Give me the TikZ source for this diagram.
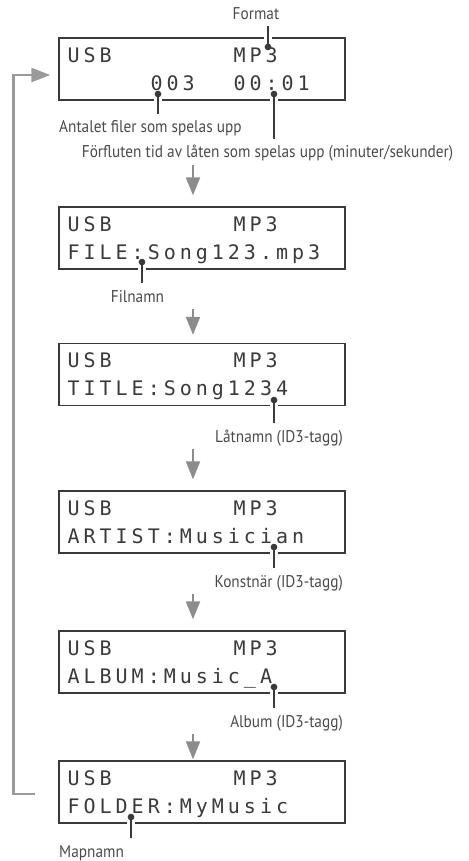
\documentclass[tikz,border=0pt]{standalone}
\usepackage{fontspec}
\setmainfont[FakeStretch=0.9]{PT Sans}
\newfontfamily\lcdfont[LetterSpace=20]{DejaVu Sans Mono}
\usepackage{xcolor}
\usetikzlibrary{arrows.meta,positioning,calc}
\definecolor{lcdgray}{HTML}{3A3A3A}
\definecolor{txtgray}{HTML}{4A4A4A}
\definecolor{flowgray}{HTML}{8C8C8C}
\definecolor{backgray}{HTML}{9A9A9A}

\begin{document}
\begin{tikzpicture}[x=1pt,y=-1pt,
   lcd/.style={draw=lcdgray,line width=1.3pt,minimum width=286pt,minimum height=62pt,inner sep=0pt},
   lcdtxt/.style={anchor=base west,inner sep=0pt,text=lcdgray,font=\lcdfont\fontsize{20}{24}\selectfont},
   lbl/.style={anchor=base,inner xsep=0pt,inner ysep=7pt,text height=12pt,text depth=0pt,
               text=txtgray,font=\fontsize{17}{20}\selectfont},
   callout/.style={draw=lcdgray,line width=2.3pt,{Circle[length=6.5pt]}-,
                   preaction={draw=white,line width=8pt,-,shorten <=8pt}},
   flow/.style={draw=flowgray,line width=2pt,-{Triangle[length=18pt,width=14pt]},shorten >=11pt},
   back/.style={draw=backgray,line width=2.5pt,-{Triangle[length=19pt,width=14pt]}}]
  \useasboundingbox (0,0) rectangle (468,861);

  % displays
  \foreach \n/\y in {1/69,2/238,3/374.5,4/522,5/662,6/792}{
    \node[lcd] (d\n) at (202,\y) {};
    \node[lcdtxt] (u\n) at ($(d\n.north west)+(9,25)$) {USB};
    \node[lcdtxt] (m\n) at ($(d\n.north west)+(175,25)$) {MP3};
  }
  \node[lcdtxt] (num1) at ($(d1.north west)+(92,53)$) {003};
  \node[lcdtxt] (tim1) at ($(d1.north west)+(175,53)$) {00:01};
  \foreach \n/\txt in {2/FILE:Song123.mp3,3/TITLE:Song1234,4/ARTIST:Musician,
                       5/ALBUM:Music\_A,6/FOLDER:MyMusic}
    \node[lcdtxt] (r\n) at ($(d\n.north west)+(9,53)$) {\txt};

  % labels
  \node[lbl] (fmt) at (256,19.3) {Format};
  \node[lbl,anchor=base west] (cnt) at (59,133) {Antalet filer som spelas upp};
  \node[lbl] (tim) at (267.5,158) {Förfluten tid av låten som spelas upp (minuter/sekunder)};
  \node[lbl] (fil) at (137.5,302) {Filnamn};
  \node[lbl,anchor=base east] (lat) at (343,442) {Låtnamn (ID3-tagg)};
  \node[lbl,anchor=base east] (kon) at (343,587) {Konstnär (ID3-tagg)};
  \node[lbl,anchor=base east] (alb) at (343,727) {Album (ID3-tagg)};
  \node[lbl,anchor=base west] (map) at (59,857) {Mapnamn};

  % callout dots
  \coordinate (fmtpt) at (268,50.2);
  \coordinate (cntpt) at (158,90.8);
  \coordinate (timpt) at (274,90.8);
  \coordinate (filpt) at (142,258.8);
  \coordinate (latpt) at (274,396.8);
  \coordinate (konpt) at (274,543.8);
  \coordinate (albpt) at (274,683.8);
  \coordinate (mappt) at (131,813.8);
  \draw[callout] (fmtpt) -- (fmtpt |- fmt.south);
  \draw[callout] (cntpt) -- (cntpt |- cnt.north);
  \draw[callout] (timpt) -- (timpt |- tim.north);
  \draw[callout] (filpt) -- (filpt |- fil.north);
  \draw[callout] (latpt) -- (latpt |- lat.north);
  \draw[callout] (konpt) -- (konpt |- kon.north);
  \draw[callout] (albpt) -- (albpt |- alb.north);
  \draw[callout] (mappt) -- (mappt |- map.north);

  % flow
  \coordinate (ax) at (193,0);
  \draw[flow] (ax |- tim.south) -- (ax |- d2.north);
  \draw[flow,shorten >=8pt] (ax |- fil.south) -- (ax |- d3.north);
  \draw[flow] (ax |- lat.south) -- (ax |- d4.north);
  \draw[flow] (ax |- kon.south) -- (ax |- d5.north);
  \draw[flow,shorten >=1pt] (ax |- alb.south) -- (ax |- d6.north);
  \draw[back] ([xshift=-23pt,yshift=-2pt]d6.west) -- ++(-22,0) |- ([xshift=-8pt,yshift=-6pt]d1.west);
\end{tikzpicture}
\end{document}
